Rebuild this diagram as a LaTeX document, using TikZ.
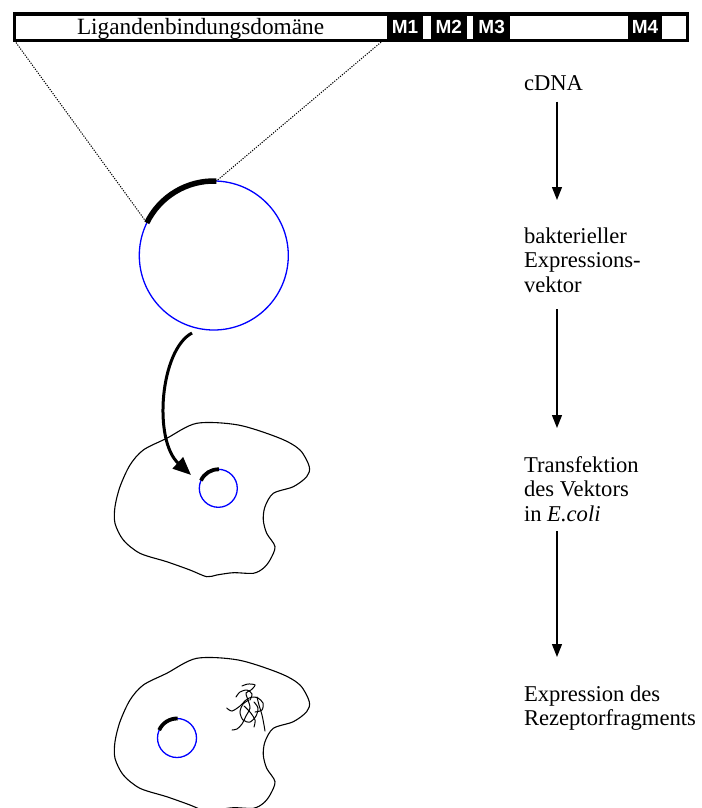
\documentclass[tikz,border=0pt]{standalone}
\usepackage{fontspec}
\setmainfont{Liberation Serif}
\newfontfamily\segfont{Liberation Sans}
\usetikzlibrary{arrows.meta}
\begin{document}
\begin{tikzpicture}[x=1pt,y=-1pt,
  every node/.style={inner sep=0pt, outer sep=0pt},
  % multi-line labels: the base anchor sits on the last line
  lbl/.style={anchor=base west, align=left, font=\fontsize{22.6}{24.6}\selectfont},
  segbox/.style={fill=black, minimum height=30pt, anchor=north west, text=white,
    font=\segfont\bfseries\fontsize{19}{19}\selectfont},
  flow/.style={line width=1.3pt, -{Triangle[length=13pt,width=10pt]}},
  plasmid/.style={draw=blue, circle, line width=1.3pt},
  insert/.style={line width=5.5pt, y=1pt},
  smallinsert/.style={line width=3.8pt, y=1pt},
  guide/.style={dash pattern=on 1.2pt off 1.3pt, line width=1pt},
  tangle/.style={line width=1pt, line cap=round},
  cellwall/.pic={
    \draw[line width=1.1pt] plot[smooth cycle, tension=0.5] coordinates {
      (196.7,423.3) (238.3,425) (280,438.3) (300,450) (309.3,466.7) (306.7,476.7)
      (293.3,486.7) (273.3,493.3) (265,506.7) (263.3,520) (266.7,533.3) (275,546.7)
      (270,560) (263.3,568.3) (253.3,573.3) (233.3,572.7) (216.7,575) (206.7,576.7)
      (190,570) (166.7,561.7) (140,553.3) (123.3,540) (115,523.3) (115,506.7)
      (120,486.7) (130,465) (143.3,450) (166.7,438.3)};
  }
]
\useasboundingbox (0,0) rectangle (701,808);

% receptor bar with the four membrane segments
\node[draw, line width=3.5pt, minimum width=673pt, minimum height=26.5pt, anchor=north west] (bar) at (14.5,14) {};
\node[lbl, font=\fontsize{23.3}{24.6}\selectfont] (lbd) at (77,35) {Ligandenbindungsdomäne};
\node[segbox, minimum width=36.6pt] (M1) at (386.7,12) {M1};
\node[segbox, minimum width=36pt]   (M2) at (430.7,12) {M2};
\node[segbox, minimum width=36.7pt] (M3) at (473.3,12) {M3};
\node[segbox, minimum width=33.4pt] (M4) at (628.3,12) {M4};
\coordinate (cutR) at (383,40.5);

% expression vector with the inserted fragment
\node[plasmid, minimum size=149pt] (vec) at (213.8,255.5) {};
\draw[insert] (vec.154) arc[start angle=154, end angle=88, radius=74.5];
\draw[guide] (bar.south west) -- (vec.154);
\draw[guide] (cutR) -- (vec.88);

% bacterium taking up the vector
\pic at (0,0) {cellwall};
\node[plasmid, minimum size=38pt] (vecA) at (218.3,488.3) {};
\draw[smallinsert] (vecA.156) arc[start angle=156, end angle=88, radius=19];
\coordinate (curveStart) at (192,333);
\coordinate (curveEnd) at (191,475);
\draw[line width=3pt, -{Triangle[length=18pt,width=15pt]}]
  (curveStart) .. controls (160,350) and (153,440) .. (curveEnd);

% bacterium expressing the receptor fragment
\pic at (0,235) {cellwall};
\node[plasmid, minimum size=39pt] (vecB) at (177,738) {};
\draw[smallinsert] (vecB.156) arc[start angle=156, end angle=88, radius=19.5];
\draw[tangle] plot[smooth] coordinates {(226.7,708) (232,711) (240,706) (246,700) (252,697) (258,698) (263,703) (262,710) (255,712)};
\draw[tangle] plot[smooth] coordinates {(242,686) (248,684) (255,685) (251,690) (246,693) (248,700) (250,708) (246,716) (242,724) (237,729) (232,730)};
\draw[tangle] plot[smooth] coordinates {(249,700) (243,704) (240,712) (243,720) (250,722) (256,716) (258,708) (254,702)};
\draw[tangle] plot[smooth] coordinates {(257,697) (259,705) (262,715) (264,725) (265,731)};
\draw[tangle] plot[smooth] coordinates {(244,706) (250,712) (255,720) (254,727)};
\draw[tangle] plot[smooth] coordinates {(236,697) (240,692) (247,690) (252,694) (250,700)};

% process steps
\node[lbl] (cdna) at (524,90) {cDNA};
\node[lbl] (vtext) at (524,292.2) {bakterieller\\Expressions-\\vektor};
\node[lbl] (ttext) at (524,521.2) {Transfektion\\des Vektors\\in \textit{E.coli}};
\node[lbl] (etext) at (524,725.6) {Expression des\\Rezeptorfragments};
\coordinate (s1a) at (557,101.7);
\coordinate (s1b) at (557,200);
\coordinate (s2a) at (557,309);
\coordinate (s2b) at (557,428);
\coordinate (s3a) at (557,531);
\coordinate (s3b) at (557,657);
\draw[flow] (s1a) -- (s1b);
\draw[flow] (s2a) -- (s2b);
\draw[flow] (s3a) -- (s3b);
\end{tikzpicture}
\end{document}
